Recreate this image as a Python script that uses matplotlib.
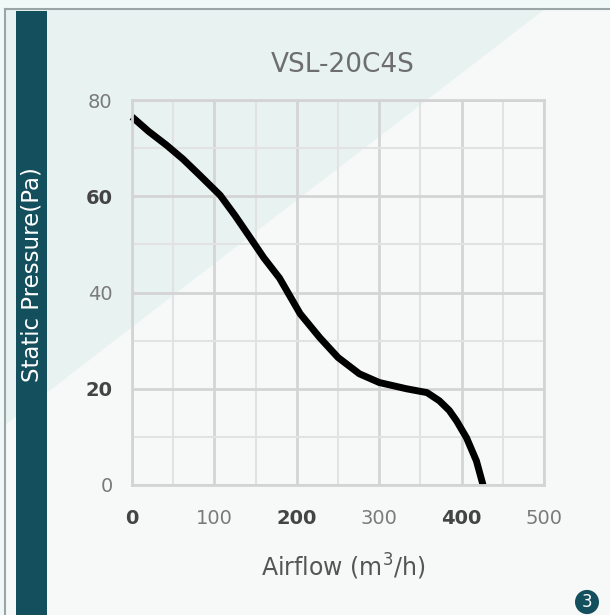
import matplotlib
matplotlib.use('Agg')
import matplotlib.pyplot as plt
from matplotlib.patches import Polygon, Rectangle, Circle

# fan curve
airflow = [0, 20, 42, 62, 82, 107, 125, 143, 160, 179, 204, 228, 250,
           276, 300, 333, 358, 373, 385, 394, 406, 418, 426]
pressure = [76.5, 73.5, 70.6, 67.7, 64.4, 60.2, 56.0, 51.5, 47.2, 43.0,
            35.6, 30.6, 26.5, 23.1, 21.3, 20.0, 19.2, 17.5, 15.5, 13.3,
            9.8, 5.0, 0.0]
xticks = [0, 100, 200, 300, 400, 500]
yticks = [0, 20, 40, 60, 80]
bold_x = [0, 200, 400]
bold_y = [20, 60]

teal = '#134f5c'
W, H = 610.0, 615.0

fig = plt.figure(figsize=(W/100, H/100), dpi=100)
fig.patch.set_facecolor('#f0f8f8')

# background panels
kwa = dict(transform=fig.transFigure, zorder=-10)
fig.patches.append(Rectangle((5/W, 0), 1, 1-9/H, fc='#f7f9f9', ec='none', **kwa))
fig.patches.append(Polygon([(5/W, 1-9/H), (545/W, 1-9/H), (5/W, 1-425/H)],
                           closed=True, fc='#e8f3f1', ec='none', **kwa))
fig.patches.append(Rectangle((16/W, 0), 31/W, 1-11/H, fc=teal, ec='none', **kwa))
fig.lines.append(plt.Line2D([5/W, 5/W], [0, 1-9/H], color='#9aa6a6', lw=1.5,
                            transform=fig.transFigure))
fig.lines.append(plt.Line2D([5/W, 1], [1-9/H, 1-9/H], color='#9aa6a6', lw=1.5,
                            transform=fig.transFigure))

ax = fig.add_axes([132/W, 1-485/H, 412/W, 385/H])
ax.set_facecolor('none')
ax.set_xlim(0, 500)
ax.set_ylim(0, 80)

# grid
ax.set_xticks(xticks)
ax.set_yticks(yticks)
ax.set_xticks(range(50, 500, 100), minor=True)
ax.set_yticks(range(10, 80, 20), minor=True)
ax.grid(which='major', color='#d4d4d4', lw=2)
ax.grid(which='minor', color='#e2e2e2', lw=1.5)
ax.set_axisbelow(True)
for s in ax.spines.values():
    s.set_color('#d4d4d4')
    s.set_linewidth(2)
ax.tick_params(which='both', length=0)
ax.tick_params(axis='x', pad=17)
ax.tick_params(axis='y', pad=14)

for labs, ticks, bold in [(ax.get_xticklabels(), xticks, bold_x),
                          (ax.get_yticklabels(), yticks, bold_y)]:
    for lab, v in zip(labs, ticks):
        lab.set_fontsize(14)
        if v in bold:
            lab.set_color('#444444')
            lab.set_fontweight('bold')
        else:
            lab.set_color('#7a7a7a')

# curve
ax.plot(airflow, pressure, color='black', lw=5, solid_capstyle='butt', clip_on=False)

fig.text(343/W, 1-65/H, 'VSL-20C4S', fontsize=19, color='#6e6e6e',
         ha='center', va='center')
fig.text(343/W, 1-567/H, 'Airflow (m$^3$/h)', fontsize=17, color='#555555',
         ha='center', va='center')
fig.text(32/W, 1-275/H, 'Static Pressure(Pa)', rotation=90, color='white',
         fontsize=16.5, ha='center', va='center')

# page badge
fig.patches.append(Circle((587/W, 1-602/H), 12/W, fc=teal, ec='none',
                          transform=fig.transFigure))
fig.text(587/W, 1-602/H, '3', color='white', fontsize=12, ha='center', va='center')

fig.savefig('out.png', dpi=100)
